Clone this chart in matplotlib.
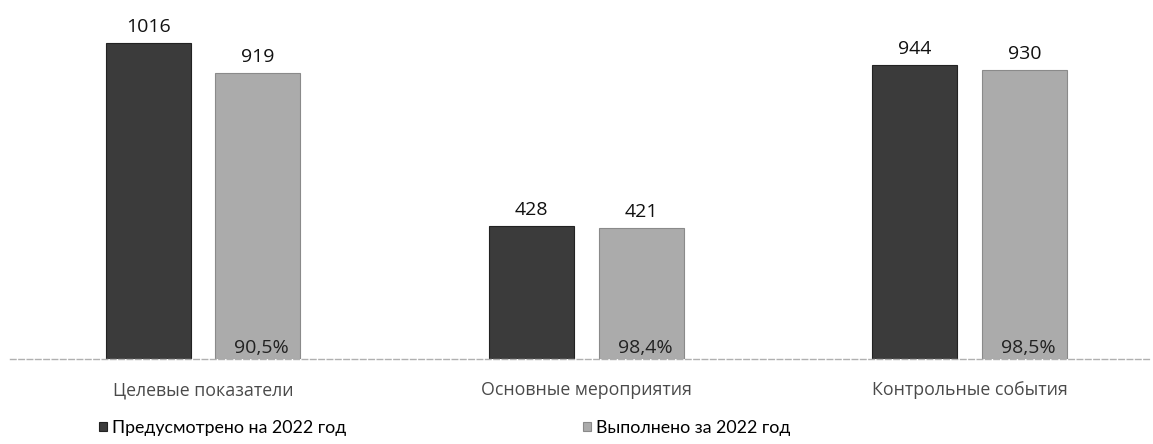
import matplotlib.pyplot as plt
import numpy as np

plt.rcParams['font.family'] = ['Open Sans', 'DejaVu Sans']

# данные
categories = ['Целевые показатели', 'Основные мероприятия', 'Контрольные события']
planned = [1016, 428, 944]
done = [919, 421, 930]
percents = ['90,5%', '98,4%', '98,5%']
legend_labels = ['Предусмотрено на 2022 год', 'Выполнено за 2022 год']

dark = '#3b3b3b'
light = '#ababab'

fig = plt.figure(figsize=(11.53, 4.44), dpi=100)
ax = fig.add_axes([10 / 1153, 85 / 444, 1140 / 1153, 359 / 444])

x = np.arange(len(categories))
w = 0.222
off = 0.143

b1 = ax.bar(x - off, planned, w, color=dark, edgecolor='#222222', linewidth=0.8,
            label=legend_labels[0])
b2 = ax.bar(x + off, done, w, color=light, edgecolor='#8a8a8a', linewidth=0.8,
            label=legend_labels[1])

# подписи значений
for xi, v in zip(x - off, planned):
    ax.text(xi, v + 22, str(v), ha='center', va='bottom', fontsize=14, color='#111111')
for xi, v in zip(x + off, done):
    ax.text(xi, v + 22, str(v), ha='center', va='bottom', fontsize=14, color='#111111')
for xi, p in zip(x + off, percents):
    ax.text(xi + 0.01, 8, p, ha='center', va='bottom', fontsize=14, color='#222222')

ax.set_xlim(-0.504, 2.471)
ax.set_ylim(0, 1154)
for s in ['top', 'right', 'left']:
    ax.spines[s].set_visible(False)
ax.spines['bottom'].set_color('#b0b0b0')
ax.spines['bottom'].set_linestyle((0, (4, 2)))
ax.spines['bottom'].set_linewidth(1)
ax.set_yticks([])
ax.set_xticks(x)
ax.set_xticklabels(categories, fontsize=12.8, color='#4a4a4a')
ax.tick_params(axis='x', length=0, pad=16)

leg = fig.legend(handles=[b1, b2], labels=legend_labels, loc='center left',
                 bbox_to_anchor=(99 / 1153, 16 / 444), ncol=2, frameon=False,
                 prop={'family': 'Lato', 'size': 12.8}, handlelength=0.45,
                 handleheight=0.45, handletextpad=0.3, columnspacing=13.3,
                 borderpad=0, borderaxespad=0)

fig.savefig('out.png', dpi=100)
